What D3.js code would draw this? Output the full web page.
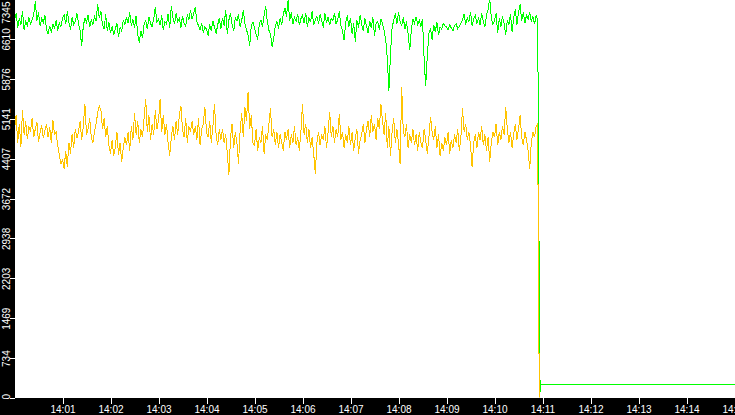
<!DOCTYPE html>
<html>
<head>
<meta charset="utf-8">
<script src="https://cdn.jsdelivr.net/npm/d3@7"></script>
<style>
    body { margin: 0; background: #000; }
    svg { display: block; }
</style>
</head>
<body>
<div id="canvas"></div>
<script>
// samples every 2 s from 14:00:00, then the drop at 14:10:55
const startTime = "14:00:00";
const stepSeconds = 2;

const greenValues = [
    6950, 7080, 6820, 6990, 6870, 7120, 6780, 6930, 6860, 7010,
    6890, 6960, 7050, 7300, 6940, 7100, 6850, 6980, 6910, 7040,
    6780, 6700, 6850, 6730, 6880, 6810, 6950, 6760, 6900, 6840,
    6990, 7060, 6880, 7120, 6920, 6780, 7010, 6870, 6940, 7080,
    6900, 6760, 6480, 6850, 6990, 6910, 7050, 6830, 6960, 6880,
    7030, 6940, 7250, 6990, 7130, 6870, 6800, 7060, 6750, 6920,
    6720, 6840, 6680, 6790, 6900, 6650, 6820, 6760, 6950, 6870,
    7010, 6900, 7100, 6850, 6970, 6810, 7040, 6690, 6540, 6760,
    6620, 6880, 6950, 6790, 7020, 6900, 6830, 6980, 7190, 6920,
    6980, 6860, 7040, 6770, 6930, 6890, 7070, 6810, 7220, 7010,
    6880, 7080, 6930, 6990, 6820, 7030, 6900, 6850, 7060, 6960,
    7150, 6970, 7080, 7190, 6930, 6850, 6780, 6900, 6720, 6830,
    6790, 6670, 6880, 6760, 6940, 6820, 6710, 6870, 6990, 6800,
    7000, 6850, 7150, 6700, 6960, 7080, 6880, 6750, 7000, 6940,
    7060, 6830, 6950, 7140, 6900, 6780, 6680, 6490, 6850, 6920,
    6810, 6690, 6600, 6880, 6960, 6840, 7050, 7210, 6930, 6770,
    6700, 6460, 6620, 6850, 6940, 6800, 6990, 6870, 7060, 7180,
    7020, 7330, 6940, 7100, 6880, 7010, 6930, 7070, 6860, 6980,
    7040, 6900, 7090, 6840, 7000, 6920, 7120, 6870, 6960, 7030,
    6890, 7060, 6950, 6820, 7080, 6910, 7010, 6860, 6990, 6940,
    7090, 6880, 6970, 7120, 6850, 6760, 6590, 6920, 7040, 6830,
    7000, 6700, 6900, 6560, 6950, 6820, 7050, 6880, 6760, 6990,
    6850, 6720, 6940, 6810, 7010, 6670, 6890, 6930, 6780, 6980,
    6900, 6760, 6600, 6250, 5660, 6340, 6820, 6950, 7080, 6880,
    7100, 6940, 6850, 7010, 6790, 6930, 6700, 6400, 6760, 6980,
    6900, 7020, 6870, 6950, 6830, 6980, 6250, 5735, 6300, 6720,
    6800, 6600, 6870, 6740, 6920, 6680, 6830, 6790, 6900, 6850,
    6830, 6780, 6870, 6810, 6760, 6850, 6890, 6800, 6840, 6900,
    6950, 7070, 6870, 7000, 6920, 7110, 6850, 6980, 7040, 6900,
    6990, 6870, 7080, 6940, 6830, 7050, 7150, 7360, 7000, 6880,
    6950, 7080, 6720, 6990, 6840, 7030, 6890, 6680, 6960, 6880,
    7060, 6730, 6990, 7160, 6870, 7090, 7250, 6940, 7100, 6900,
    7050, 6970, 7100, 6930, 7020, 6880, 7040, 6960
];

const yellowValues = [
    4950, 5200, 4700, 5050, 4620, 5300, 4850, 5100, 4760, 5000,
    4900, 5150, 4800, 4950, 5080, 4720, 4880, 5020, 4780, 4930,
    5050, 4800, 4980, 4700, 5120, 4850, 4900, 4650, 4480, 4300,
    4400, 4220, 4550, 4250, 4700, 4500, 4850, 4600, 4950, 4780,
    4900, 5100, 4750, 5000, 5420, 4850, 4950, 5150, 4800, 4700,
    4900, 5050, 5250, 5380, 5300, 4950, 5150, 4800, 5000, 4650,
    4500, 4750, 4450, 4620, 4900, 4480, 4700, 4350, 4600, 4800,
    4650, 4900, 4550, 5000, 4750, 5240, 4850, 5100, 4700, 4950,
    4800, 5150, 5510, 4900, 5200, 4750, 5050, 4850, 5300, 4950,
    5100, 5500, 4900, 5200, 4850, 5050, 4700, 4450, 4800, 5000,
    4750, 5100, 4850, 5200, 5380, 4950, 4800, 5150, 4700, 5000,
    4900, 5100, 4850, 5000, 4750, 5150, 4650, 4950, 5050, 5360,
    4900, 4800, 5100, 4700, 5000, 5420, 4850, 4650, 4950, 4750,
    4950, 4700, 4850, 4500, 4110, 4800, 5050, 4600, 4900, 4700,
    4310, 4900, 5250, 4800, 5350, 5100, 5640, 4950, 5200, 4700,
    4650, 4950, 4550, 4800, 4700, 5000, 4500, 4850, 4750, 5050,
    5330, 4800, 4950, 4650, 4900, 4600, 4850, 4700, 4550, 4900,
    4750, 4950, 4600, 4850, 4700, 5000, 4650, 4800, 4550, 4900,
    5420, 4850, 5050, 4700, 4950, 4600, 4800, 4500, 4130, 4700,
    4900, 4650, 4850, 4750, 5000, 4600, 4900, 5270, 4800, 5000,
    4700, 4950, 4800, 5230, 4750, 4900, 4600, 4850, 4700, 5000,
    4650, 4900, 4550, 4800, 4950, 4500, 4750, 4850, 5050, 4700,
    4950, 5100, 4800, 5200, 4900, 5050, 4750, 5150, 4950, 5420,
    5100, 4850, 5250, 4600, 5000, 4450, 4900, 5150, 4700, 4950,
    4700, 4310, 5720, 4900, 4800, 5050, 4600, 4850, 4700, 4950,
    4650, 4850, 4550, 4900, 4700, 4600, 4950, 4750, 4500, 4800,
    5180, 4900, 4750, 5000, 4600, 4850, 4450, 4700, 4550, 4800,
    4650, 4900, 4500, 4750, 4600, 4850, 4700, 4950, 4550, 4800,
    5330, 4900, 5050, 4750, 4900, 4650, 4250, 4700, 4850, 4600,
    4900, 4750, 5000, 4650, 4850, 4550, 4800, 4350, 4700, 4900,
    4800, 5050, 4650, 4900, 4750, 5000, 4850, 5360, 4950, 4700,
    4900, 4600, 4850, 5050, 4750, 4950, 5200, 4800, 4650, 4900,
    4750, 4550, 4220, 4700, 4900, 4800, 5000, 5050
];

const tailTimes = ["14:10:55", "14:10:56", "14:10:57", "14:10:58", "14:15:00"];
const greenTail = [4500, 2000, 110, 240, 240];
const yellowTail = [2200, 0, 0, 0, 0];

const yTicks = [0, 734, 1469, 2203, 2938, 3672, 4407, 5141, 5876, 6610, 7345];
const xTicks = ["14:01", "14:02", "14:03", "14:04", "14:05", "14:06", "14:07", "14:08",
    "14:09", "14:10", "14:11", "14:12", "14:13", "14:14", "14:15"];

const width = 735;
const height = 415;
const margin = { top: 0, left: 15, bottom: 17, right: 0 };
const iwidth = width - margin.left - margin.right;
const iheight = height - margin.top - margin.bottom;

const parseTime = d3.timeParse("%H:%M:%S");
const parseTick = d3.timeParse("%H:%M");
const t0 = parseTime(startTime);

function series(values, tail) {
    return values.map((v, i) => ({ t: new Date(t0.getTime() + i * stepSeconds * 1000), v: v }))
        .concat(tail.map((v, i) => ({ t: parseTime(tailTimes[i]), v: v })));
}
const green = series(greenValues, greenTail);
const yellow = series(yellowValues, yellowTail);

const svg = d3.select("#canvas").append("svg")
    .attr("width", width)
    .attr("height", height)
    .style("font-family", "'DejaVu Sans Mono', monospace")
    .style("font-size", "9px");

svg.append("rect")
    .attr("width", width)
    .attr("height", height)
    .style("fill", "#000");

svg.append("rect")
    .attr("x", margin.left)
    .attr("y", 0)
    .attr("width", iwidth)
    .attr("height", iheight)
    .style("fill", "#fff");

const x = d3.scaleTime()
    .domain([parseTime("14:00:00"), parseTime("14:15:00")])
    .range([margin.left - 0.5, width - 0.5]);

const y = d3.scaleLinear()
    .domain([0, 7345])
    .range([iheight, -1]);

svg.append("clipPath").attr("id", "plot")
    .append("rect")
    .attr("x", margin.left)
    .attr("y", 0)
    .attr("width", iwidth)
    .attr("height", iheight - 0.5);

const line = d3.line()
    .x(d => x(d.t))
    .y(d => y(d.v));

const lines = svg.append("g").attr("clip-path", "url(#plot)");

lines.append("path")
    .datum(green)
    .attr("d", line)
    .style("fill", "none")
    .style("stroke", "#00ff00")
    .style("stroke-width", 1)
    .style("shape-rendering", "crispEdges");

lines.append("path")
    .datum(yellow)
    .attr("d", line)
    .style("fill", "none")
    .style("stroke", "#ffc400")
    .style("stroke-width", 1)
    .style("shape-rendering", "crispEdges");

// y axis, labels turned on their side
const yAxis = svg.append("g")
    .attr("transform", `translate(${margin.left},0)`)
    .call(d3.axisLeft(y).tickValues(yTicks).tickSize(5).tickFormat(d3.format("d")));

yAxis.select(".domain").remove();
yAxis.selectAll("line").style("stroke", "#fff").style("shape-rendering", "crispEdges");
yAxis.selectAll("text")
    .style("fill", "#fff")
    .attr("x", null)
    .attr("dy", null)
    .attr("text-anchor", "middle")
    .attr("transform", function (d) {
        const half = this.getComputedTextLength() / 2;
        const cy = Math.max(half + 1, Math.min(iheight + 1 - half, y(d)));
        return `translate(${-5},${cy - y(d)}) rotate(-90)`;
    });

// x axis
const xAxis = svg.append("g")
    .attr("transform", `translate(0,${iheight})`)
    .call(d3.axisBottom(x)
        .tickValues(xTicks.map(parseTick))
        .tickSize(6)
        .tickFormat(d3.timeFormat("%H:%M")));

xAxis.select(".domain").remove();
xAxis.selectAll("line").style("stroke", "#fff").style("shape-rendering", "crispEdges");
xAxis.selectAll("text")
    .style("fill", "#fff")
    .attr("dy", null)
    .attr("y", 15);
</script>
</body>
</html>
